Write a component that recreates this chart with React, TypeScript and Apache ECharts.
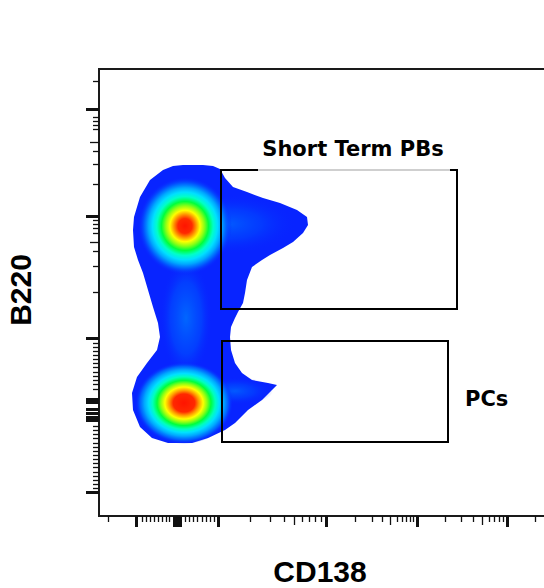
import React, { useEffect, useRef } from "react";
import * as echarts from "echarts";

// Display channels of the logicle-scaled axes (CD138 on x, B220 on y)
const X_RANGE: [number, number] = [0, 461];
const Y_RANGE: [number, number] = [0, 447];

// Axis ticks in display channels
const xMajorTicks = [37, 75, 78, 81, 119, 227, 318, 408];
const xMidTicks = [195, 291, 383];
const xMinorTicks = [
  9, 43, 47, 51, 55, 59, 63, 67, 70, 86, 90, 94, 98, 103, 107, 111, 115,
  151, 171, 185, 203, 210, 216, 222, 256, 273, 283, 298, 303, 307, 311, 314,
  346, 362, 374, 390, 395, 400, 404, 436, 452,
];
const yMajorTicks = [407, 300, 178, 117, 114, 107, 103, 99, 96, 24];
const yMidTicks = [374, 274];
const yMinorTicks = [
  435, 399, 395, 391, 387, 365, 352, 332, 296, 292, 288, 283, 265, 250, 224,
  173, 169, 165, 161, 157, 153, 149, 144, 140, 136, 132, 127,
  90, 86, 82, 78, 73, 69, 65, 61, 57, 53, 49, 44, 40, 36, 32, 28,
];

// Outer density contour of the cell population (display channels)
const populationOutline: [number, number][] = [
  [84, 351], [104, 351], [114, 350], [121, 347], [126, 338], [134, 329],
  [148, 324], [164, 318], [181, 313], [198, 306], [208, 299], [209, 291],
  [204, 283], [194, 274], [184, 268], [171, 261], [163, 256], [153, 249],
  [148, 236], [146, 223], [144, 213], [139, 204], [136, 198], [132, 189],
  [131, 179], [132, 166], [136, 153], [143, 143], [153, 136], [169, 133],
  [178, 131], [173, 126], [163, 116], [149, 106], [136, 93], [126, 86],
  [109, 78], [93, 73], [69, 73], [53, 78], [41, 89], [34, 106], [33, 123],
  [38, 139], [48, 153], [58, 166], [61, 179], [59, 193], [54, 209], [49, 226],
  [44, 243], [39, 256], [35, 269], [34, 286], [35, 299], [41, 319], [51, 336],
  [64, 346], [74, 350],
];

// Density cores: centres and spreads (display channels)
const glowKinds = ["tail", "tail", "neck", "peakHigh", "peakLow"];
const glowCenters: [number, number][] = [
  [129, 292], [136, 125], [87, 198], [86, 290], [85, 113],
];
const glowSpreads: [number, number][] = [
  [68, 30], [38, 14], [26, 60], [47, 49], [49, 41],
];

// Gates
const gateNames = ["Short Term PBs", "PCs"];
const gateX: [number, number][] = [[122, 358], [123, 349]];
const gateY: [number, number][] = [[207, 346], [74, 175]];

const BASE_BLUE = "rgb(8,36,255)";
const CLEAR_BLUE = "rgba(8,36,255,0)";

const STOPS: Record<string, [number, string][]> = {
  tail: [
    [0, "rgba(0,100,255,0.85)"],
    [0.5, "rgba(0,75,255,0.55)"],
    [1, CLEAR_BLUE],
  ],
  neck: [
    [0, "rgba(0,110,255,0.9)"],
    [0.6, "rgba(0,80,255,0.6)"],
    [1, CLEAR_BLUE],
  ],
  peakHigh: [
    [0, "#ff1400"],
    [0.15, "#ff2a00"],
    [0.23, "#ff8c00"],
    [0.32, "#ffff00"],
    [0.41, "#8cff14"],
    [0.5, "#00ff3c"],
    [0.6, "#00ffc8"],
    [0.69, "#00e0ff"],
    [0.78, "#00a8ff"],
    [0.87, "rgba(0,100,255,0.9)"],
    [1, CLEAR_BLUE],
  ],
  peakLow: [
    [0, "#ff1400"],
    [0.22, "#ff2800"],
    [0.3, "#ff9600"],
    [0.39, "#ffff00"],
    [0.47, "#8cff14"],
    [0.55, "#00ff3c"],
    [0.64, "#00ffbe"],
    [0.72, "#00e0ff"],
    [0.81, "#00a8ff"],
    [0.9, "rgba(0,100,255,0.9)"],
    [1, CLEAR_BLUE],
  ],
};

const TICK_COLOR = "#111";

function tickAxis(
  dir: "x" | "y",
  values: number[],
  length: number,
  width: number
) {
  const range = dir === "x" ? X_RANGE : Y_RANGE;
  return {
    type: "value",
    gridIndex: 0,
    min: range[0],
    max: range[1],
    position: dir === "x" ? "bottom" : "left",
    offset: 0,
    axisLine: { show: false },
    axisLabel: { show: false },
    splitLine: { show: false },
    axisTick: {
      show: true,
      inside: false,
      length,
      lineStyle: { color: TICK_COLOR, width },
      customValues: values,
    },
  };
}

export default function App() {
  const ref = useRef<HTMLDivElement>(null);

  useEffect(() => {
    if (!ref.current) return;
    const chart = echarts.init(ref.current, undefined, { renderer: "svg" });

    const labelFont = 'bold 21px "DejaVu Sans", sans-serif';

    const option: any = {
      animation: false,
      backgroundColor: "#fff",
      grid: {
        left: 99,
        top: 69,
        width: 461,
        height: 447,
        outerBoundsMode: "none",
        containLabel: false,
        show: true,
        borderColor: "#1a1a1a",
        borderWidth: 2,
        backgroundColor: "transparent",
      },
      xAxis: [
        tickAxis("x", xMajorTicks, 11, 3),
        tickAxis("x", xMidTicks, 9, 1.3),
        tickAxis("x", xMinorTicks, 6, 1.3),
      ],
      yAxis: [
        tickAxis("y", yMajorTicks, 13, 3),
        tickAxis("y", yMidTicks, 9, 1.3),
        tickAxis("y", yMinorTicks, 6, 1.3),
      ],
      series: [
        {
          type: "custom",
          coordinateSystem: "cartesian2d",
          xAxisIndex: 0,
          yAxisIndex: 0,
          silent: true,
          data: [[populationOutline[0][0], populationOutline[0][1]]],
          renderItem: (_params: any, api: any) => ({
            type: "polygon",
            shape: { points: populationOutline.map((p) => api.coord(p)) },
            style: { fill: BASE_BLUE },
          }),
        },
        {
          type: "custom",
          coordinateSystem: "cartesian2d",
          xAxisIndex: 0,
          yAxisIndex: 0,
          silent: true,
          data: glowCenters.map((c, i) => [
            c[0],
            c[1],
            glowSpreads[i][0],
            glowSpreads[i][1],
          ]),
          renderItem: (params: any, api: any) => {
            const kind = glowKinds[params.dataIndex];
            const c = api.coord([api.value(0), api.value(1)]);
            const s = api.size([api.value(2), api.value(3)]);
            return {
              type: "ellipse",
              shape: { cx: c[0], cy: c[1], rx: s[0], ry: s[1] },
              style: {
                fill: new echarts.graphic.RadialGradient(
                  0.5,
                  0.5,
                  0.5,
                  STOPS[kind].map(([offset, color]) => ({ offset, color }))
                ),
              },
            };
          },
        },
        {
          type: "custom",
          coordinateSystem: "cartesian2d",
          xAxisIndex: 0,
          yAxisIndex: 0,
          silent: true,
          data: gateX.map((x, i) => [x[0], gateY[i][0], x[1], gateY[i][1]]),
          renderItem: (params: any, api: any) => {
            const i = params.dataIndex;
            const p1 = api.coord([api.value(0), api.value(3)]);
            const p2 = api.coord([api.value(2), api.value(1)]);
            const left = p1[0];
            const top = p1[1];
            const right = p2[0];
            const bottom = p2[1];
            const children: any[] = [
              {
                type: "rect",
                shape: { x: left, y: top, width: right - left, height: bottom - top },
                style: { fill: "none", stroke: "#000", lineWidth: 2 },
              },
            ];
            if (i === 0) {
              children.push({
                type: "line",
                shape: { x1: left + 37, y1: top, x2: right - 7, y2: top },
                style: { stroke: "#cfcfcf", lineWidth: 2 },
              });
              children.push({
                type: "text",
                x: (left + right) / 2 + 14,
                y: top - 21,
                style: {
                  text: gateNames[i],
                  font: labelFont,
                  fill: "#000",
                  align: "center",
                  verticalAlign: "middle",
                },
              });
            } else {
              children.push({
                type: "text",
                x: right + 17,
                y: (top + bottom) / 2 + 7,
                style: {
                  text: gateNames[i],
                  font: labelFont,
                  fill: "#000",
                  align: "left",
                  verticalAlign: "middle",
                },
              });
            }
            return { type: "group", children };
          },
        },
      ],
      graphic: [
        {
          type: "text",
          x: 320,
          y: 571,
          style: {
            text: "CD138",
            font: 'bold 30px "Liberation Sans", Arial, sans-serif',
            fill: "#000",
            align: "center",
            verticalAlign: "middle",
          },
        },
        {
          type: "text",
          x: 20,
          y: 290,
          rotation: Math.PI / 2,
          style: {
            text: "B220",
            font: 'bold 30px "Liberation Sans", Arial, sans-serif',
            fill: "#000",
            align: "center",
            verticalAlign: "middle",
          },
        },
      ],
    };

    chart.setOption(option);
    return () => chart.dispose();
  }, []);

  return (
    <div
      ref={ref}
      style={{
        position: "fixed",
        left: 0,
        top: 0,
        width: 544,
        height: 588,
        background: "#fff",
      }}
    />
  );
}
